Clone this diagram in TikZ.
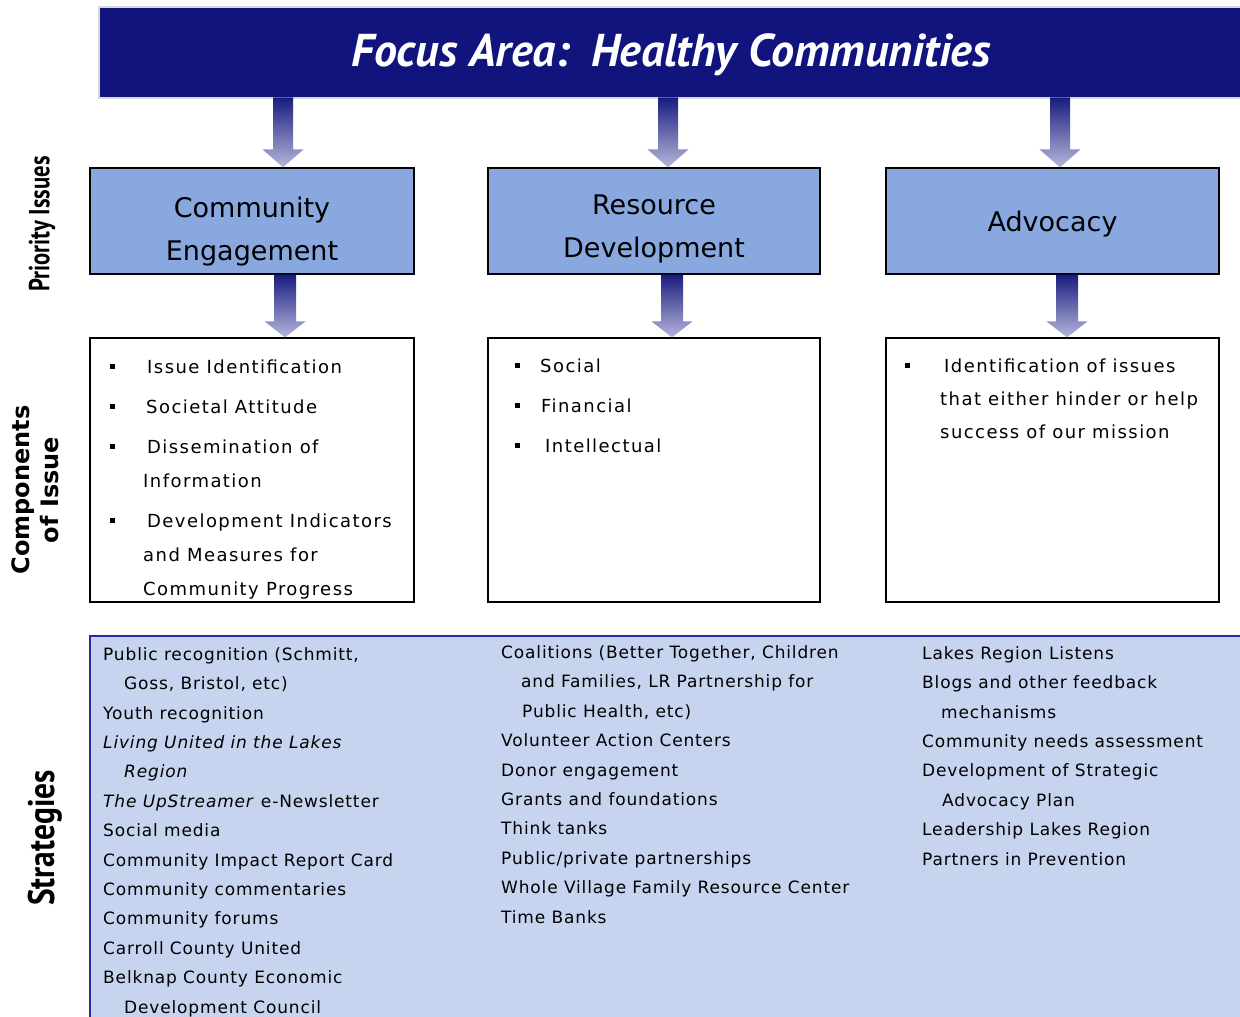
\documentclass[tikz,border=0pt]{standalone}
\usepackage{fontspec}
\setmainfont{DejaVu Sans}
\newfontfamily\bodyfont[LetterSpace=8]{DejaVu Sans}
\newfontfamily\stratfont[LetterSpace=5]{DejaVu Sans}
\newfontfamily\headfont{DejaVu Sans}
\newfontfamily\titlefont{PT Sans}
\usetikzlibrary{calc}
\definecolor{bannerblue}{HTML}{10147C}
\definecolor{prioblue}{HTML}{8AA8E0}
\definecolor{stratfill}{HTML}{C6D4F0}
\definecolor{stratedge}{HTML}{2A2AA0}
\definecolor{arrowtop}{HTML}{181C7E}
\definecolor{arrowbot}{HTML}{B6B6DC}
\newcommand{\bul}{\makebox[0pt][l]{\raisebox{4pt}{\rule{5pt}{5pt}}}}
\tikzset{
  priobox/.style={draw=black, line width=1.2pt, fill=prioblue, inner sep=0pt},
  priolabel/.style={inner sep=0pt, align=center,
    font=\headfont\fontsize{27}{43}\selectfont},
  compbox/.style={draw=black, line width=1.2pt, fill=white, inner sep=0pt},
  comptext/.style={anchor=base west, inner sep=0pt, align=left,
    font=\bodyfont\fontsize{18}{34}\selectfont},
  strattext/.style={anchor=base west, inner sep=0pt, align=left,
    font=\stratfont\fontsize{17}{29.4}\selectfont},
  sidelabel/.style={rotate=90, inner sep=0pt, align=center}
}
\newcommand{\gradarrow}[5]{% from node, to node, x coordinate, shaft half width, head length
  \shade[top color=arrowtop, bottom color=arrowbot]
    let \p1=(#1), \p2=(#2), \p3=(#3) in
    (\x3-#4,\y1) -- (\x3+#4,\y1) -- (\x3+#4,\y2+#5) -- (\x3+20.5pt,\y2+#5)
    -- (\x3,\y2) -- (\x3-20.5pt,\y2+#5) -- (\x3-#4,\y2+#5) -- cycle;}
\begin{document}
\begin{tikzpicture}[x=1pt,y=-1pt]
\useasboundingbox (0,0) rectangle (1240,1017);
\clip (0,0) rectangle (1240,1017);
% banner
\fill[gray!30] (98,6) rectangle (1250,99);
\node[fill=bannerblue, minimum width=1150pt, minimum height=89pt, inner sep=0pt,
  anchor=north west] (banner) at (100,8) {};
\node[text=white, font=\titlefont\bfseries\itshape\fontsize{46}{46}\selectfont]
  (title) at (671,55) {Focus Area:\hspace{0.45em}Healthy Communities};
% priority boxes
\node[priobox, minimum width=324pt, minimum height=106pt] (p1) at (252,221) {};
\node[priobox, minimum width=332pt, minimum height=106pt] (p2) at (654,221) {};
\node[priobox, minimum width=333pt, minimum height=106pt] (p3) at (1052.5,221) {};
\node[priolabel] (p1t) at ($(p1.center)+(0,11)$) {Community\\Engagement};
\node[priolabel] (p2t) at ($(p2.center)+(0,8)$) {Resource\\Development};
\node[priolabel] (p3t) at ($(p3.center)+(0,3)$) {Advocacy};
% component boxes
\node[compbox, minimum width=324pt, minimum height=264pt] (c1) at (252,470) {};
\node[compbox, minimum width=332pt, minimum height=264pt] (c2) at (654,470) {};
\node[compbox, minimum width=333pt, minimum height=264pt] (c3) at (1052.5,470) {};
% arrows
\coordinate (x1) at (283,0);
\coordinate (x2) at (668,0);
\coordinate (x3) at (1060,0);
\coordinate (y1) at (285,0);
\coordinate (y2) at (672,0);
\coordinate (y3) at (1067,0);
\gradarrow{banner.south}{p1.north}{x1}{10pt}{18pt}
\gradarrow{banner.south}{p2.north}{x2}{10pt}{18pt}
\gradarrow{banner.south}{p3.north}{x3}{10pt}{18pt}
\gradarrow{p1.south}{c1.north}{y1}{11pt}{16pt}
\gradarrow{p2.south}{c2.north}{y2}{11pt}{16pt}
\gradarrow{p3.south}{c3.north}{y3}{11pt}{16pt}
% component texts (base anchor = baseline of the last line)
\node[comptext] (t1) at (110,595) {\bul\hspace*{37pt}Issue Identification\\[6pt]
  \bul\hspace*{36pt}Societal Attitude\\[6pt]
  \bul\hspace*{37pt}Dissemination of\\
  \hspace*{33pt}Information\\[6pt]
  \bul\hspace*{37pt}Development Indicators\\
  \hspace*{33pt}and Measures for\\
  \hspace*{33pt}Community Progress};
\node[comptext] (t2) at (515,452) {\bul\hspace*{25pt}Social\\[6pt]
  \bul\hspace*{26pt}Financial\\[6pt]
  \bul\hspace*{30pt}Intellectual};
\node[comptext, font=\bodyfont\fontsize{18}{33}\selectfont] (t3) at (905,438)
  {\bul\hspace*{39pt}Identification of issues\\
  \hspace*{35pt}that either hinder or help\\
  \hspace*{35pt}success of our mission};
% strategies box
\filldraw[fill=stratfill, draw=stratedge, line width=1.5pt] (90,1030) -- (90,636) -- (1250,636)
  -- (1250,1030) -- cycle;
\node[strattext] (s1) at (103,1013) {Public recognition (Schmitt,\\
  \hspace*{21pt}Goss, Bristol, etc)\\
  Youth recognition\\
  \textit{Living United in the Lakes}\\
  \hspace*{21pt}\textit{Region}\\
  \textit{The UpStreamer} e-Newsletter\\
  Social media\\
  Community Impact Report Card\\
  Community commentaries\\
  Community forums\\
  Carroll County United\\
  Belknap County Economic\\
  \hspace*{21pt}Development Council};
\node[strattext] (s2) at (501,923) {Coalitions (Better Together, Children\\
  \hspace*{20pt}and Families, LR Partnership for\\
  \hspace*{21pt}Public Health, etc)\\
  Volunteer Action Centers\\
  Donor engagement\\
  Grants and foundations\\
  Think tanks\\
  Public/private partnerships\\
  Whole Village Family Resource Center\\
  Time Banks};
\node[strattext] (s3) at (922,865) {Lakes Region Listens\\
  Blogs and other feedback\\
  \hspace*{19pt}mechanisms\\
  Community needs assessment\\
  Development of Strategic\\
  \hspace*{20pt}Advocacy Plan\\
  Leadership Lakes Region\\
  Partners in Prevention};
% side labels
\node[sidelabel, font=\titlefont\bfseries\fontsize{29}{29}\selectfont] (l1) at (42,224)
  {\scalebox{0.78}[1]{Priority Issues}};
\node[sidelabel, font=\headfont\bfseries\fontsize{24}{29}\selectfont] (l2) at (35,490)
  {Components\\of Issue};
\node[sidelabel, font=\titlefont\bfseries\fontsize{37}{37}\selectfont] (l3) at (45,838)
  {\scalebox{0.85}[1]{Strategies}};
\end{tikzpicture}
\end{document}
